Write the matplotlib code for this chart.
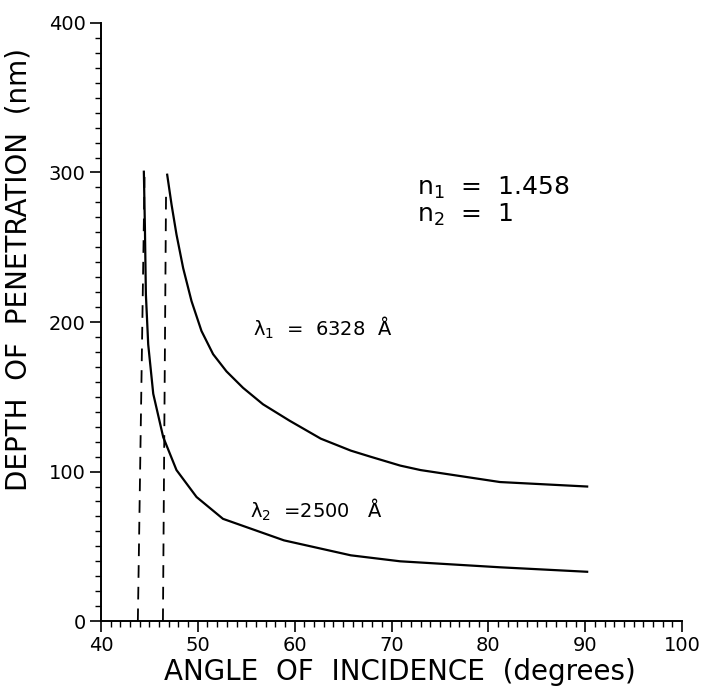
import matplotlib
matplotlib.use("Agg")
import matplotlib.pyplot as plt
from matplotlib.ticker import MultipleLocator

plt.rcParams['font.family'] = ['DejaVu Sans']
plt.rcParams['mathtext.default'] = 'regular'

# curve for lambda1 = 6328 A
ang_1 = [46.84, 47.29, 47.8, 48.49, 49.35, 50.38, 51.58, 52.96, 54.67, 56.73, 59.48,
         62.7, 65.8, 67.8, 70.9, 73.0, 81.2, 90.2]
depth_1 = [298.5, 278.5, 258.5, 236, 214, 194, 178.5, 167, 156, 145, 134,
           122, 114, 110, 104, 101, 93, 90]

# curve for lambda2 = 2500 A
ang_2 = [44.43, 44.54, 44.64, 44.88, 45.4, 46.43, 47.8, 49.87, 52.6, 58.9, 65.8, 70.9, 81.2, 90.2]
depth_2 = [300.5, 263, 218.5, 185, 152, 123, 101, 83, 68.4, 54, 44, 40, 36, 33]

# dashed critical-angle lines (bottom, top)
dash_a = [43.81, 44.5]
dash_a_v = [0, 297]
dash_b = [46.4, 46.72]
dash_b_v = [0, 285]

fig = plt.figure(figsize=(7.01, 6.94), dpi=100)
ax = fig.add_axes([0.144, 0.105, 0.829, 0.862])

ax.plot(ang_1, depth_1, color="k", lw=1.6)
ax.plot(ang_2, depth_2, color="k", lw=1.6)
ax.plot(dash_a, dash_a_v, color="k", lw=1.3, ls=(0, (7, 5)))
ax.plot(dash_b, dash_b_v, color="k", lw=1.3, ls=(0, (7, 5)))

ax.set_xlim(40, 100)
ax.set_ylim(0, 400)
ax.xaxis.set_major_locator(MultipleLocator(10))
ax.xaxis.set_minor_locator(MultipleLocator(1))
ax.yaxis.set_major_locator(MultipleLocator(100))
ax.yaxis.set_minor_locator(MultipleLocator(10))

ax.spines['top'].set_visible(False)
ax.spines['right'].set_visible(False)
ax.spines['left'].set_linewidth(1.4)
ax.spines['bottom'].set_linewidth(1.4)
ax.tick_params(which="major", direction="out", length=8, width=1.2, labelsize=14, pad=3)
ax.tick_params(which="minor", direction="out", length=4.5, width=1.0)

ax.set_xlabel("ANGLE  OF  INCIDENCE  (degrees)", fontsize=20)
ax.xaxis.set_label_coords(0.515, -0.062)
ax.set_ylabel("DEPTH  OF  PENETRATION  (nm)", fontsize=20)
ax.yaxis.set_label_coords(-0.118, 0.587)

ax.text(72.6, 285, "n$_1$  =  1.458", fontsize=18, ha="left", va="baseline")
ax.text(72.6, 267, "n$_2$  =  1", fontsize=18, ha="left", va="baseline")
ax.text(55.7, 191, "λ$_1$  =  6328  Å", fontsize=14, ha="left", va="baseline")
ax.text(55.4, 69, "λ$_2$  =2500   Å", fontsize=14, ha="left", va="baseline")

fig.savefig("out.png", dpi=100)
